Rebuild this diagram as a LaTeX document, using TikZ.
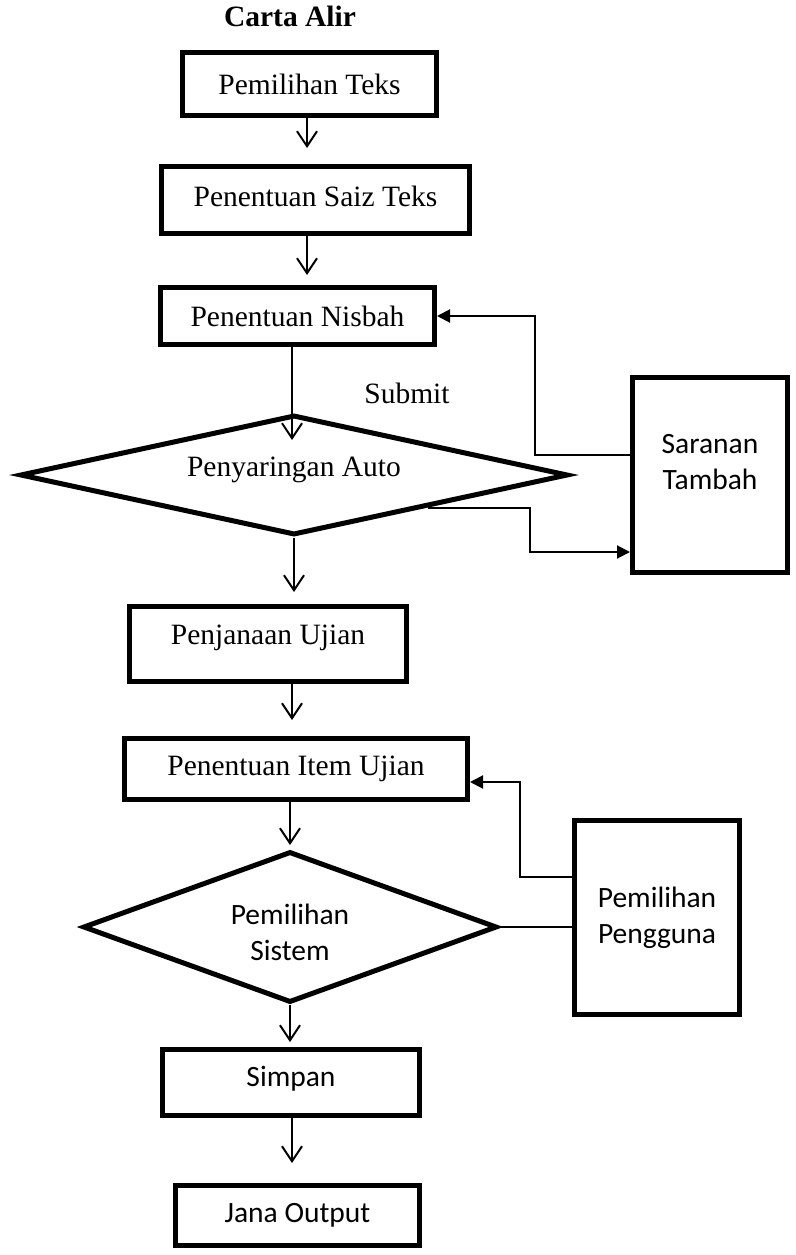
\documentclass[tikz,border=0pt]{standalone}
\usepackage{fontspec}
\setmainfont{Liberation Serif}
\newfontfamily\cblfont{Carlito}
\usetikzlibrary{arrows.meta,shapes.geometric}
\newcommand\tnrsize{\fontsize{29.5}{36}\selectfont}
\begin{document}
\begin{tikzpicture}[x=1pt,y=-1pt,
  box/.style={draw, rectangle, line width=5pt, inner sep=0pt, align=center, font=\tnrsize},
  sbox/.style={box, font=\cblfont\tnrsize},
  dia/.style={draw, diamond, line width=5pt, inner sep=0pt},
  txt/.style={inner sep=0pt, align=center, font=\tnrsize},
  stxt/.style={txt, font=\cblfont\tnrsize},
  flow/.style={line width=2pt, -{Straight Barb[length=15pt,width=20pt]}},
  side/.style={line width=2pt, -{Triangle[length=13pt,width=13pt]}},
  plain/.style={line width=1.6pt}]
\useasboundingbox (0,0) rectangle (795,1255);

% title
\node[txt, font=\tnrsize\bfseries] (title) at (290,16) {Carta Alir};

% boxes
\node[box, minimum width=254, minimum height=63] (n1) at (309.5,84) {Pemilihan Teks};
\node[box, minimum width=308, minimum height=67] (n2) at (315.5,200) {};
\node[txt] (t2) at (315.5,196) {Penentuan Saiz Teks};
\node[box, minimum width=274, minimum height=57] (n3) at (297.5,316) {Penentuan Nisbah};
\node[dia, minimum width=548, minimum height=120] (d1) at (294,475) {};
\node[txt] (t4) at (294,470) {Penyaringan Auto};
\node[box, minimum width=277, minimum height=75] (n4) at (268,644) {};
\node[txt] (t5) at (268,638) {Penjanaan Ujian};
\node[box, minimum width=343, minimum height=61] (n5) at (296,769) {Penentuan Item Ujian};
\node[dia, minimum width=414, minimum height=151] (d2) at (290,927) {};
\node[stxt] (t6) at (290,932) {Pemilihan\\Sistem};
\node[sbox, minimum width=257, minimum height=66] (n6) at (291,1082.5) {};
\node[stxt] (t7) at (291,1079) {Simpan};
\node[sbox, minimum width=244, minimum height=60] (n7) at (297.5,1215.5) {Jana Output};

\node[sbox, minimum width=155, minimum height=195] (sb) at (710,475) {};
\node[stxt] (t8) at (710,462) {Saranan\\Tambah};
\node[sbox, minimum width=165, minimum height=194] (pp) at (657,917.5) {Pemilihan\\Pengguna};

\node[txt] (sub) at (407,393) {Submit};

% main flow
\draw[flow, shorten >=16pt] (n1.south -| 307,0) -- (n2.north -| 307,0);
\draw[flow, shorten >=10pt] (n2.south -| 307,0) -- (n3.north -| 307,0);
\coordinate (a3) at (292,440);
\draw[flow] (n3.south -| a3) -- (a3);
\draw[flow, shorten >=12pt] (d1.south) -- (d1.south |- n4.north);
\draw[flow, shorten >=16pt] (n4.south -| 292,0) -- (n5.north -| 292,0);
\draw[flow, shorten >=4pt] (n5.south -| 290,0) -- (d2.north);
\draw[flow, shorten >=5pt] (d2.south) -- (d2.south |- n6.north);
\draw[flow, shorten >=20pt] (n6.south -| 292,0) -- (n7.north -| 292,0);

% side connectors
\draw[side] (sb.west |- 0,455) -| (535,316) -- (n3.east);
\coordinate (d1se) at (428,508);
\draw[side] (d1se) -| (530,552) -- (sb.west |- 0,552);
\draw[side] (pp.west |- 0,877) -| (520,782) -- (n5.east |- 0,782);
\draw[plain] (d2.east) -- (pp.west |- d2.east);
\end{tikzpicture}
\end{document}
